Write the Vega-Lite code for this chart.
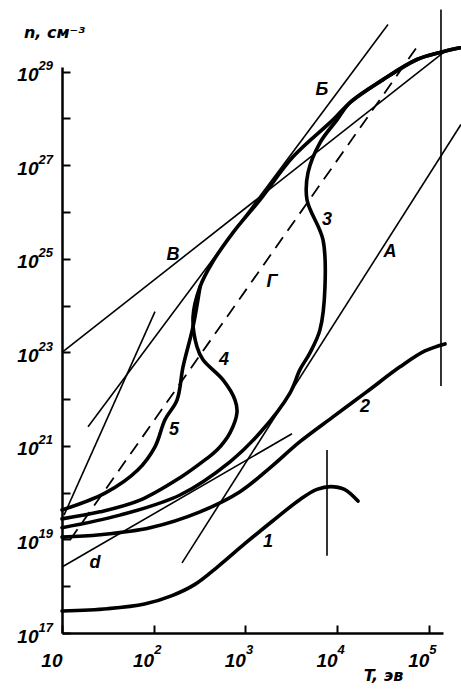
{
  "$schema": "https://vega.github.io/schema/vega-lite/v6.json",
  "width": 381,
  "height": 566,
  "autosize": "none",
  "padding": {"left": 62, "top": 67, "right": 18, "bottom": 58},
  "background": "white",
  "config": {
    "view": {"stroke": null},
    "axis": {
      "grid": false,
      "domainColor": "black",
      "domainWidth": 2.5,
      "tickColor": "black",
      "tickWidth": 2,
      "tickSize": -8,
      "labelColor": "black",
      "labelFont": "Liberation Sans",
      "labelFontSize": 19,
      "labelFontStyle": "italic",
      "labelFontWeight": "bold",
      "titleColor": "black",
      "titleFont": "DejaVu Sans",
      "titleFontSize": 16,
      "titleFontStyle": "italic",
      "titleFontWeight": "bold"
    }
  },
  "resolve": {"axis": {"x": "independent", "y": "independent"}},
  "datasets": {
    "thick": [
      {"id": "1", "lgT": 1.0, "lgn": 17.47},
      {"id": "1", "lgT": 1.5, "lgn": 17.52},
      {"id": "1", "lgT": 1.9, "lgn": 17.62},
      {"id": "1", "lgT": 2.2, "lgn": 17.8},
      {"id": "1", "lgT": 2.45, "lgn": 18.04},
      {"id": "1", "lgT": 2.7, "lgn": 18.42},
      {"id": "1", "lgT": 3.0, "lgn": 18.92},
      {"id": "1", "lgT": 3.3, "lgn": 19.4},
      {"id": "1", "lgT": 3.6, "lgn": 19.86},
      {"id": "1", "lgT": 3.78, "lgn": 20.07},
      {"id": "1", "lgT": 3.93, "lgn": 20.13},
      {"id": "1", "lgT": 4.08, "lgn": 20.07},
      {"id": "1", "lgT": 4.228, "lgn": 19.82},
      {"id": "2", "lgT": 1.0, "lgn": 19.05},
      {"id": "2", "lgT": 1.414, "lgn": 19.1},
      {"id": "2", "lgT": 1.96, "lgn": 19.25},
      {"id": "2", "lgT": 2.505, "lgn": 19.59},
      {"id": "2", "lgT": 2.941, "lgn": 20.02},
      {"id": "2", "lgT": 3.268, "lgn": 20.53},
      {"id": "2", "lgT": 3.595, "lgn": 21.09},
      {"id": "2", "lgT": 3.955, "lgn": 21.62},
      {"id": "2", "lgT": 4.326, "lgn": 22.16},
      {"id": "2", "lgT": 4.686, "lgn": 22.69},
      {"id": "2", "lgT": 4.958, "lgn": 23.03},
      {"id": "2", "lgT": 5.177, "lgn": 23.18},
      {"id": "3", "lgT": 1.0, "lgn": 19.25},
      {"id": "3", "lgT": 1.632, "lgn": 19.52},
      {"id": "3", "lgT": 2.287, "lgn": 19.95},
      {"id": "3", "lgT": 2.832, "lgn": 20.66},
      {"id": "3", "lgT": 3.159, "lgn": 21.28},
      {"id": "3", "lgT": 3.486, "lgn": 22.13},
      {"id": "3", "lgT": 3.595, "lgn": 22.63},
      {"id": "3", "lgT": 3.704, "lgn": 22.99},
      {"id": "3", "lgT": 3.813, "lgn": 23.48},
      {"id": "3", "lgT": 3.868, "lgn": 24.4},
      {"id": "3", "lgT": 3.846, "lgn": 25.41},
      {"id": "3", "lgT": 3.672, "lgn": 26.26},
      {"id": "3", "lgT": 3.683, "lgn": 26.84},
      {"id": "3", "lgT": 3.813, "lgn": 27.48},
      {"id": "3", "lgT": 3.999, "lgn": 27.97},
      {"id": "3", "lgT": 4.141, "lgn": 28.34},
      {"id": "3", "lgT": 4.501, "lgn": 28.83},
      {"id": "3", "lgT": 4.871, "lgn": 29.26},
      {"id": "3", "lgT": 5.122, "lgn": 29.41},
      {"id": "3", "lgT": 5.34, "lgn": 29.51},
      {"id": "4", "lgT": 1.0, "lgn": 19.44},
      {"id": "4", "lgT": 1.414, "lgn": 19.59},
      {"id": "4", "lgT": 1.851, "lgn": 19.84},
      {"id": "4", "lgT": 2.287, "lgn": 20.32},
      {"id": "4", "lgT": 2.559, "lgn": 20.7},
      {"id": "4", "lgT": 2.69, "lgn": 20.91},
      {"id": "4", "lgT": 2.832, "lgn": 21.28},
      {"id": "4", "lgT": 2.908, "lgn": 21.71},
      {"id": "4", "lgT": 2.887, "lgn": 21.98},
      {"id": "4", "lgT": 2.756, "lgn": 22.41},
      {"id": "4", "lgT": 2.538, "lgn": 22.84},
      {"id": "4", "lgT": 2.472, "lgn": 23.12},
      {"id": "4", "lgT": 2.429, "lgn": 23.76},
      {"id": "4", "lgT": 2.505, "lgn": 24.4},
      {"id": "4", "lgT": 2.636, "lgn": 24.91},
      {"id": "4", "lgT": 2.865, "lgn": 25.56},
      {"id": "4", "lgT": 3.159, "lgn": 26.26},
      {"id": "4", "lgT": 3.519, "lgn": 27.18},
      {"id": "4", "lgT": 3.955, "lgn": 27.97},
      {"id": "4", "lgT": 4.141, "lgn": 28.34},
      {"id": "4", "lgT": 4.501, "lgn": 28.83},
      {"id": "4", "lgT": 4.871, "lgn": 29.26},
      {"id": "4", "lgT": 5.122, "lgn": 29.41},
      {"id": "4", "lgT": 5.34, "lgn": 29.51},
      {"id": "5", "lgT": 1.0, "lgn": 19.63},
      {"id": "5", "lgT": 1.469, "lgn": 19.99},
      {"id": "5", "lgT": 1.829, "lgn": 20.49},
      {"id": "5", "lgT": 2.014, "lgn": 20.98},
      {"id": "5", "lgT": 2.123, "lgn": 21.56},
      {"id": "5", "lgT": 2.254, "lgn": 21.98},
      {"id": "5", "lgT": 2.32, "lgn": 22.69},
      {"id": "5", "lgT": 2.429, "lgn": 23.55},
      {"id": "5", "lgT": 2.505, "lgn": 24.4}
    ],
    "thin": [
      {"id": "A", "lgT": 2.309, "lgn": 18.5},
      {"id": "A", "lgT": 5.351, "lgn": 27.87},
      {"id": "B", "lgT": 1.284, "lgn": 21.41},
      {"id": "B", "lgT": 4.555, "lgn": 30.01},
      {"id": "V", "lgT": 1.0, "lgn": 23.0},
      {"id": "V", "lgT": 5.2, "lgn": 29.47},
      {"id": "s", "lgT": 1.022, "lgn": 19.52},
      {"id": "s", "lgT": 2.014, "lgn": 23.87},
      {"id": "d", "lgT": 1.0, "lgn": 18.41},
      {"id": "d", "lgT": 3.508, "lgn": 21.26},
      {"id": "v1", "lgT": 5.133, "lgn": 22.28},
      {"id": "v1", "lgT": 5.133, "lgn": 30.33},
      {"id": "v2", "lgT": 3.89, "lgn": 18.65},
      {"id": "v2", "lgT": 3.89, "lgn": 20.91}
    ],
    "dashed": [
      {"id": "G", "lgT": 1.087, "lgn": 18.99},
      {"id": "G", "lgT": 4.904, "lgn": 29.62}
    ],
    "labels": [
      {"t": "Б", "lgT": 3.835, "lgn": 28.61},
      {"t": "В", "lgT": 2.21, "lgn": 25.09},
      {"t": "Г", "lgT": 3.29, "lgn": 24.51},
      {"t": "А", "lgT": 4.577, "lgn": 25.15},
      {"t": "3", "lgT": 3.89, "lgn": 25.83},
      {"t": "4", "lgT": 2.767, "lgn": 22.84},
      {"t": "5", "lgT": 2.221, "lgn": 21.34},
      {"t": "2", "lgT": 4.304, "lgn": 21.83},
      {"t": "1", "lgT": 3.246, "lgn": 18.95},
      {"t": "d", "lgT": 1.36, "lgn": 18.5}
    ]
  },
  "layer": [
    {
      "data": {"name": "thick"},
      "mark": {"type": "line", "color": "black", "strokeWidth": 3.6, "interpolate": "catmull-rom", "clip": false, "strokeCap": "round", "strokeJoin": "round"},
      "encoding": {
        "x": {
          "field": "lgT", "type": "quantitative",
          "scale": {"domain": [1, 5.155], "nice": false, "zero": false},
          "axis": {
            "orient": "bottom",
            "values": [1, 2, 3, 4, 5],
            "labelExpr": "'10'",
            "labelAlign": "right",
            "labelDx": 5,
            "labelPadding": 35,
            "labelBaseline": "middle",
            "title": "T, эв",
            "titleX": 321,
            "titleY": 42,
            "titleAlign": "center",
            "titleBaseline": "middle"
          }
        },
        "y": {
          "field": "lgn", "type": "quantitative",
          "scale": {"domain": [17, 29.1], "nice": false, "zero": false},
          "axis": {
            "orient": "left",
            "values": [17, 18, 19, 20, 21, 22, 23, 24, 25, 26, 27, 28, 29],
            "labelExpr": "datum.value % 2 == 1 ? '10' : ''",
            "labelAlign": "right",
            "labelPadding": 32,
            "labelOffset": 3,
            "labelBaseline": "middle",
            "title": "n, см⁻³",
            "titleAngle": 0,
            "titleX": -8,
            "titleY": -35,
            "titleAlign": "center",
            "titleBaseline": "middle"
          }
        },
        "detail": {"field": "id"},
        "order": {"value": null}
      }
    },
    {
      "data": {"name": "thin"},
      "mark": {"type": "line", "color": "black", "strokeWidth": 1.6, "clip": false},
      "encoding": {
        "x": {"field": "lgT", "type": "quantitative", "scale": {"domain": [1, 5.155], "nice": false, "zero": false}, "axis": null},
        "y": {"field": "lgn", "type": "quantitative", "scale": {"domain": [17, 29.1], "nice": false, "zero": false}, "axis": null},
        "detail": {"field": "id"},
        "order": {"value": null}
      }
    },
    {
      "data": {"name": "dashed"},
      "mark": {"type": "line", "color": "black", "strokeWidth": 1.8, "strokeDash": [13, 8], "clip": false},
      "encoding": {
        "x": {"field": "lgT", "type": "quantitative", "scale": {"domain": [1, 5.155], "nice": false, "zero": false}, "axis": null},
        "y": {"field": "lgn", "type": "quantitative", "scale": {"domain": [17, 29.1], "nice": false, "zero": false}, "axis": null},
        "detail": {"field": "id"},
        "order": {"value": null}
      }
    },
    {
      "data": {"name": "labels"},
      "mark": {"type": "text", "color": "black", "font": "Liberation Sans", "fontSize": 18, "fontStyle": "italic", "fontWeight": "bold", "align": "center", "baseline": "middle", "clip": false},
      "encoding": {
        "x": {
          "field": "lgT", "type": "quantitative",
          "scale": {"domain": [1, 5.155], "nice": false, "zero": false},
          "axis": {
            "orient": "bottom",
            "values": [2, 3, 4, 5],
            "labelExpr": "format(datum.value, 'd')",
            "domain": false,
            "ticks": false,
            "tickSize": 0,
            "labelAlign": "left",
            "labelDx": 5,
            "labelPadding": 16,
            "labelBaseline": "middle",
            "labelFontSize": 13,
            "title": null
          }
        },
        "y": {
          "field": "lgn", "type": "quantitative",
          "scale": {"domain": [17, 29.1], "nice": false, "zero": false},
          "axis": {
            "orient": "left",
            "values": [17, 19, 21, 23, 25, 27, 29],
            "labelExpr": "format(datum.value, 'd')",
            "domain": false,
            "ticks": false,
            "tickSize": 0,
            "labelAlign": "left",
            "labelPadding": 24,
            "labelOffset": -6,
            "labelBaseline": "middle",
            "labelFontSize": 13,
            "title": null
          }
        },
        "text": {"field": "t"}
      }
    }
  ]
}
